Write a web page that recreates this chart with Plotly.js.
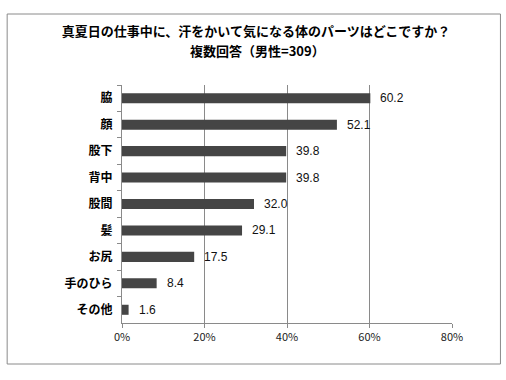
<!DOCTYPE html>
<html>
<head>
<meta charset="utf-8">
<script src="https://cdn.plot.ly/plotly-3.0.1.min.js"></script>
<style>html,body{margin:0;padding:0;background:#fff;}#chart{width:506px;height:380px;}</style>
</head>
<body>
<div id="chart"></div>
<script>
const categories = ["脇", "顔", "股下", "背中", "股間", "髪", "お尻", "手のひら", "その他"];
const values = [60.2, 52.1, 39.8, 39.8, 32.0, 29.1, 17.5, 8.4, 1.6];
const tickValues = [0, 20, 40, 60, 80];
const tickLabels = ["0%", "20%", "40%", "60%", "80%"];
const titleText = "真夏日の仕事中に、汗をかいて気になる体のパーツはどこですか？";
const subtitleText = "複数回答（男性=309）";

const trace = {
  type: "bar",
  orientation: "h",
  x: values,
  y: categories,
  marker: {color: "#454545", line: {width: 0}},
  hoverinfo: "none"
};

const annotations = values.map((v, i) => ({
  x: v, y: categories[i], xref: "x", yref: "y",
  text: v.toFixed(1), showarrow: false,
  xanchor: "left", xshift: 8,
  font: {family: "Liberation Sans, Arial, sans-serif", size: 12, color: "#111"}
}));
annotations.push({
  x: 0.41, y: 1.147, xref: "paper", yref: "paper",
  text: subtitleText, showarrow: false,
  xanchor: "center", yanchor: "middle",
  font: {family: "Noto Sans CJK JP, sans-serif", size: 13, color: "#000", weight: "bold"}
});

const layout = {
  width: 506, height: 380,
  margin: {l: 122, r: 53.5, t: 85, b: 57, pad: 0},
  paper_bgcolor: "#fff", plot_bgcolor: "#fff",
  showlegend: false,
  bargap: 0.62,
  title: {
    text: titleText,
    font: {family: "Noto Sans CJK JP, sans-serif", size: 13, color: "#000", weight: "bold"},
    x: 0.506, xref: "container", xanchor: "center",
    y: 0.918, yref: "container", yanchor: "middle"
  },
  xaxis: {
    range: [0, 80], tickvals: tickValues, ticktext: tickLabels,
    showgrid: true, gridcolor: "#8a8a8a", gridwidth: 1,
    zeroline: false, showline: true, linecolor: "#8a8a8a", linewidth: 1,
    ticks: "outside", ticklen: 4, tickcolor: "#8a8a8a",
    tickfont: {family: "Noto Sans CJK JP, sans-serif", size: 11, color: "#222"},
    fixedrange: true
  },
  yaxis: {
    type: "category", autorange: "reversed",
    showline: true, linecolor: "#8a8a8a", linewidth: 1,
    ticks: "outside", ticklen: 4, tickcolor: "#8a8a8a", tickson: "boundaries",
    showgrid: false, zeroline: false,
    tickfont: {family: "Noto Sans CJK JP, sans-serif", size: 12, color: "#000", weight: "bold"},
    ticklabelstandoff: 6,
    fixedrange: true
  },
  annotations: annotations,
  shapes: [{
    type: "rect", xref: "paper", yref: "paper",
    x0: -0.348, x1: 1.1468, y0: -0.1723, y1: 1.2983,
    line: {color: "#8a8a8a", width: 1}, fillcolor: "rgba(0,0,0,0)", layer: "below"
  }]
};

Plotly.newPlot("chart", [trace], layout, {staticPlot: true, displayModeBar: false});
</script>
</body>
</html>
